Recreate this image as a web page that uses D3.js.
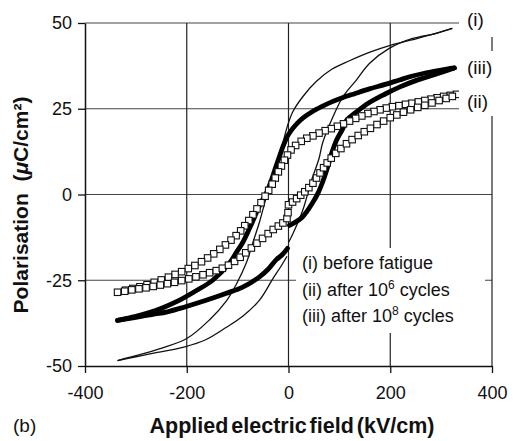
<!DOCTYPE html>
<html>
<head>
<meta charset="utf-8">
<script src="https://cdn.jsdelivr.net/npm/d3@7"></script>
<style>
  body { margin: 0; background: #fff; }
  text { font-family: "Liberation Sans", Arial, Helvetica, sans-serif; fill: #111; }
</style>
</head>
<body>
<script>
// tick values
var xTicks = [-400, -200, 0, 200, 400];
var yTicks = [-50, -25, 0, 25, 50];

// (i) before fatigue - [field kV/cm, polarisation uC/cm2]
var loopI_up = [
  [322, 48.4], [277, 46.5], [240, 45], [200, 43.5], [160, 41.5], [120, 39], [85, 36.5],
  [55, 33], [28, 28.5], [8, 24], [-2, 20], [-12, 14.5], [-24, 8], [-33, 3.5], [-42, 0],
  [-57, -8], [-70, -14], [-83, -20], [-102, -26], [-122, -31], [-155, -36.5],
  [-200, -42], [-254, -45], [-300, -47], [-336, -48.4]
];
var loopI_lowLeft = [
  [-336, -48.4], [-300, -47.3], [-270, -46.4], [-204, -44.4], [-165, -42.5], [-122, -38.7],
  [-90, -35.5], [-57, -30.8], [-31, -24.6], [-15, -21], [-3, -18]
];
var loopI_lowRight = [
  [0, -14], [10, -11], [28, -4.6], [45, 4], [60, 10.5], [67, 15], [87, 22.5], [107, 28.5],
  [133, 33.3], [159, 38.2], [198, 42.6], [244, 45.5], [291, 47], [322, 48.4]
];

// (ii) after 10^6 cycles
var loopII_up = [
  [330, 29.2], [318, 28.9], [305, 28.6], [292, 28.2], [280, 27.8], [268, 27.4], [255, 27.0],
  [242, 26.6], [230, 26.3], [217, 25.9], [204, 25.6], [192, 25.2], [180, 24.7], [168, 24.2],
  [156, 23.6], [144, 22.9], [132, 22.2], [120, 21.4], [108, 20.6], [96, 19.9], [84, 19.2],
  [72, 18.6], [60, 17.9], [48, 17.1], [36, 16.4], [25, 15.5], [14, 14.3], [5, 13.0],
  [-2, 11.5], [-8, 10.0], [-14, 8.3], [-20, 6.6], [-26, 4.8], [-32, 3.0], [-39, 1.2],
  [-46, -0.5], [-54, -2.4], [-62, -4.2], [-70, -5.9], [-78, -7.6], [-86, -9.1], [-94, -10.6],
  [-103, -12.0], [-113, -13.3], [-124, -14.7], [-135, -16.0], [-147, -17.3], [-159, -18.5],
  [-171, -19.6], [-184, -20.7], [-197, -21.6], [-210, -22.5], [-223, -23.3], [-236, -24.1],
  [-250, -24.9], [-264, -25.6], [-278, -26.3], [-292, -26.9], [-306, -27.4], [-320, -27.9],
  [-336, -28.5]
];
var loopII_lowLeft = [
  [-322, -28.2], [-308, -27.8], [-294, -27.5], [-280, -27.2], [-266, -26.8], [-252, -26.4],
  [-238, -26.0], [-224, -25.6], [-210, -25.1], [-196, -24.6], [-182, -24.0], [-168, -23.4],
  [-155, -22.8], [-142, -22.2], [-130, -21.5], [-118, -20.6], [-106, -19.5], [-95, -18.3],
  [-84, -17.0], [-73, -15.6], [-62, -14.2], [-51, -12.8], [-40, -11.4], [-30, -10.2],
  [-20, -9.2], [-11, -8.3], [-3, -7.0]
];
var loopII_lowRight = [
  [-1, -5.3], [0, -3.0], [8, -2.2], [16, -1.2], [24, -0.2], [32, 0.8], [40, 2.0], [48, 3.3],
  [55, 4.8], [62, 6.3], [69, 7.8], [76, 9.2], [84, 10.6], [93, 12.0], [103, 13.4], [114, 14.8],
  [125, 16.0], [137, 17.2], [149, 18.3], [161, 19.3], [174, 20.4], [187, 21.4], [200, 22.4],
  [213, 23.2], [226, 24.0], [240, 24.7], [254, 25.4], [268, 26.0], [282, 26.7], [296, 27.4],
  [310, 28.0], [322, 28.6]
];

// (iii) after 10^8 cycles
var loopIII_up = [
  [326, 36.9], [300, 36.3], [271, 35.5], [240, 34.4], [218, 33.4], [190, 32.1], [159, 30.8],
  [130, 29.4], [106, 28.2], [85, 27.0], [65, 25.6], [45, 24.0], [30, 22.5], [18, 20.9],
  [8, 19.2], [-2, 17.0], [-10, 14.3], [-18, 11.0], [-25, 8], [-31, 5.3], [-43, 0.6],
  [-52, -1.8], [-60, -4.2], [-68, -7], [-77, -10], [-90, -14], [-103, -17], [-116, -20],
  [-149, -25], [-181, -28], [-214, -30.8], [-247, -33], [-269, -34.2], [-300, -35.5],
  [-336, -36.7]
];
var loopIII_lowLeft = [
  [-336, -36.7], [-300, -35.8], [-269, -35], [-238, -34.2], [-204, -32.8], [-165, -31],
  [-122, -28.8], [-90, -27], [-57, -24], [-40, -21.8], [-24, -19], [-12, -17.5], [-2, -15.7]
];
var loopIII_lowRight = [
  [2, -9], [27, -6.6], [47, -2.5], [58, 0.4], [68, 4], [77, 8], [86, 12.5], [95, 16],
  [106, 19], [114, 21.6], [133, 24], [159, 26.8], [190, 29.3], [218, 31.3], [250, 33.2],
  [271, 34.2], [300, 35.6], [326, 36.9]
];

var curveLabels = [
  { text: "(i)", y: 26 },
  { text: "(iii)", y: 74 },
  { text: "(ii)", y: 108 }
];

var width = 522, height = 441;
// plot box (pixels)
var pLeft = 85, pRight = 492, pTop = 23, pBottom = 366;

var svg = d3.select("body").append("svg")
  .attr("width", width)
  .attr("height", height);

var x = d3.scaleLinear().domain([-400, 400]).range([pLeft, pRight]);
var y = d3.scaleLinear().domain([-50, 50]).range([pBottom, pTop]);

// gridlines
svg.append("g").selectAll("line")
  .data(yTicks.filter(function(d) { return d > -50; }))
  .enter().append("line")
  .attr("x1", pLeft).attr("x2", pRight)
  .attr("y1", function(d) { return y(d); })
  .attr("y2", function(d) { return y(d); })
  .attr("stroke", "#444").attr("stroke-width", 1.2);

svg.append("g").selectAll("line")
  .data(xTicks.filter(function(d) { return d > -400; }))
  .enter().append("line")
  .attr("y1", pTop).attr("y2", pBottom)
  .attr("x1", function(d) { return x(d); })
  .attr("x2", function(d) { return x(d); })
  .attr("stroke", "#222").attr("stroke-width", 1.2);

// axes (plain hyphen minus like the original)
var fmt = function(d) { return String(d); };
var xAxis = svg.append("g")
  .attr("transform", "translate(0," + pBottom + ")")
  .call(d3.axisBottom(x).tickValues(xTicks).tickFormat(fmt).tickSize(7).tickSizeOuter(0).tickPadding(13));
var yAxis = svg.append("g")
  .attr("transform", "translate(" + pLeft + ",0)")
  .call(d3.axisLeft(y).tickValues(yTicks).tickFormat(fmt).tickSize(7).tickSizeOuter(0).tickPadding(6));

[xAxis, yAxis].forEach(function(a) {
  a.select(".domain").attr("stroke", "#111").attr("stroke-width", 1.5);
  a.selectAll(".tick line").attr("stroke", "#111").attr("stroke-width", 1.3);
  a.selectAll(".tick text")
    .style("font-family", '"Liberation Sans", Arial, sans-serif')
    .style("font-size", "18px")
    .attr("fill", "#111");
});

// line generator
var line = d3.line()
  .x(function(d) { return x(d[0]); })
  .y(function(d) { return y(d[1]); })
  .curve(d3.curveCatmullRom.alpha(0.5));

// (i) thin line
[loopI_up, loopI_lowLeft, loopI_lowRight].forEach(function(data) {
  svg.append("path")
    .datum(data)
    .attr("d", line)
    .attr("fill", "none")
    .attr("stroke", "#111")
    .attr("stroke-width", 1.3);
});

// (iii) thick line
[loopIII_up, loopIII_lowLeft, loopIII_lowRight].forEach(function(data) {
  svg.append("path")
    .datum(data)
    .attr("d", line)
    .attr("fill", "none")
    .attr("stroke", "#000")
    .attr("stroke-width", 4.8)
    .attr("stroke-linecap", "round");
});

// (ii) open squares
var squares = loopII_up.concat(loopII_lowLeft, loopII_lowRight);
svg.append("g").selectAll("rect")
  .data(squares)
  .enter().append("rect")
  .attr("x", function(d) { return x(d[0]) - 3.25; })
  .attr("y", function(d) { return y(d[1]) - 3.25; })
  .attr("width", 6.5)
  .attr("height", 6.5)
  .attr("fill", "#fff")
  .attr("stroke", "#111")
  .attr("stroke-width", 1.1);

// white boxes behind curve labels
svg.append("rect").attr("x", 459).attr("y", 0).attr("width", 45).attr("height", 37).attr("fill", "#fff");
svg.append("rect").attr("x", 459).attr("y", 51).attr("width", 45).attr("height", 65).attr("fill", "#fff");

svg.selectAll("text.clab")
  .data(curveLabels)
  .enter().append("text")
  .attr("class", "clab")
  .attr("x", 467)
  .attr("y", function(d) { return d.y; })
  .style("font-size", "19px")
  .text(function(d) { return d.text; });

// legend
svg.append("rect").attr("x", 296).attr("y", 248).attr("width", 189).attr("height", 85).attr("fill", "#fff");

var legend = svg.append("g").style("font-size", "18px");
legend.append("text").attr("x", 302).attr("y", 269).text("(i) before fatigue");
var l2 = legend.append("text").attr("x", 302).attr("y", 296);
l2.append("tspan").text("(ii) after 10");
l2.append("tspan").attr("dy", -7).style("font-size", "12px").text("6");
l2.append("tspan").attr("dy", 7).text(" cycles");
var l3 = legend.append("text").attr("x", 302).attr("y", 322);
l3.append("tspan").text("(iii) after 10");
l3.append("tspan").attr("dy", -7).style("font-size", "12px").text("8");
l3.append("tspan").attr("dy", 7).text(" cycles");

// axis titles
svg.append("text")
  .attr("x", 292).attr("y", 433)
  .attr("text-anchor", "middle")
  .style("font-size", "21.5px")
  .style("font-weight", "bold")
  .style("word-spacing", "-3px")
  .text("Applied electric field (kV/cm)");

var yt = svg.append("text")
  .attr("transform", "translate(28,205) rotate(-90)")
  .attr("text-anchor", "middle")
  .style("font-size", "21px")
  .style("font-weight", "bold");
yt.append("tspan").text("Polarisation\u00a0\u00a0(");
yt.append("tspan").style("font-style", "italic").text("\u03bc");
yt.append("tspan").text("C/cm\u00b2)");

svg.append("text")
  .attr("x", 13).attr("y", 432)
  .style("font-size", "19px")
  .text("(b)");
</script>
</body>
</html>
